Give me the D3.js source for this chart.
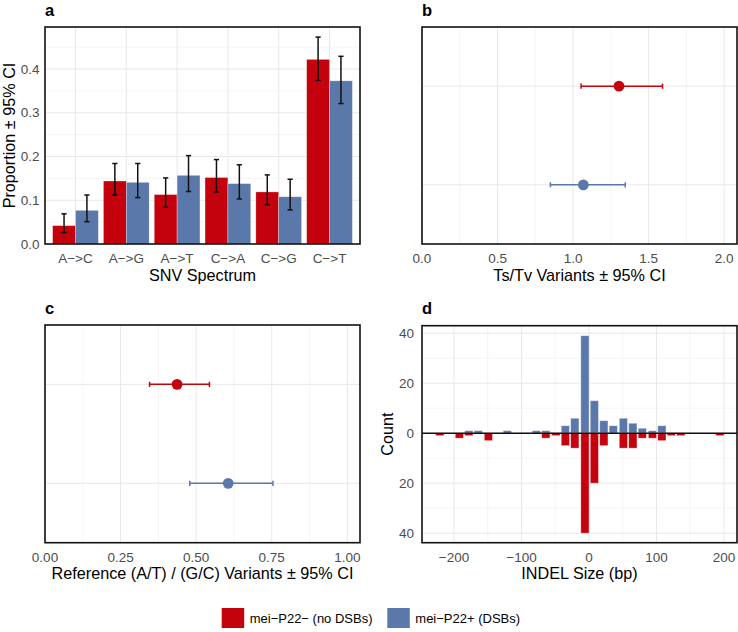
<!DOCTYPE html>
<html>
<head>
<meta charset="utf-8">
<script src="https://cdn.jsdelivr.net/npm/d3@7"></script>
<style>
  body { margin: 0; background: #fff; }
  svg { display: block; font-family: "Liberation Sans", Arial, sans-serif; }
</style>
</head>
<body>
<div id="chart"></div>
<script>
// groups (legend order)
const groups = ["mei−P22− (no DSBs)", "mei−P22+ (DSBs)"]
const groupColors = ["#c4020e", "#5b78ab"]

// panel a: SNV spectrum, proportion with 95% CI
const snvTypes = ["A−>C", "A−>G", "A−>T", "C−>A", "C−>G", "C−>T"]
const snvNoDSB = [0.042, 0.144, 0.113, 0.152, 0.119, 0.422]
const snvNoDSBLo = [0.026, 0.112, 0.084, 0.119, 0.090, 0.374]
const snvNoDSBHi = [0.069, 0.184, 0.151, 0.193, 0.158, 0.473]
const snvDSB = [0.077, 0.141, 0.157, 0.138, 0.108, 0.373]
const snvDSBLo = [0.051, 0.106, 0.120, 0.103, 0.078, 0.321]
const snvDSBHi = [0.112, 0.184, 0.202, 0.181, 0.148, 0.429]

// panel b: Ts/Tv
const tstv = [1.304, 1.068]
const tstvLo = [1.053, 0.850]
const tstvHi = [1.592, 1.345]

// panel c: reference (A/T)/(G/C)
const atgc = [0.437, 0.606]
const atgcLo = [0.346, 0.479]
const atgcHi = [0.544, 0.754]

// panel d: INDEL size histogram (bin centre in bp, counts)
const indelBins = [-221, -192, -178, -164, -149, -121, -78, -64, -49, -35, -21, -6, 8, 22, 36, 51, 65, 79, 94, 108, 122, 136, 194]
const indelNoDSB = [1, 2, 1, 0, 3, 0, 0, 2, 1, 5, 6, 40, 20, 5, 0, 6, 6, 2, 2, 3, 1, 1, 1]
const indelDSB = [0, 0, 1, 1, 0, 1, 1, 1, 0, 3, 6, 39, 13, 5, 3, 6, 4, 2, 1, 3, 0, 0, 0]
const indelBinWidth = 14.3

const W = 738, H = 632
const gridMajor = "#e8e8e8", gridMinor = "#f3f3f3"
const tickSize = 13.5, titleSize = 16.2

const svg = d3.select("#chart").append("svg")
    .attr("width", W).attr("height", H)

// panel boxes [x0, x1, y0, y1]
const pA = [45, 360, 27, 244]
const pB = [422, 737, 27, 244]
const pC = [45, 360, 325, 542.7]
const pD = [422, 737, 325.7, 542.7]

function letter(txt, x, y) {
    svg.append("text").attr("x", x).attr("y", y)
        .attr("font-size", 16.5).attr("font-weight", "bold").text(txt)
}
function xTitle(txt, p) {
    svg.append("text").attr("x", (p[0] + p[1]) / 2).attr("y", p[3] + 36.5)
        .attr("text-anchor", "middle").attr("font-size", titleSize).text(txt)
}
function yTitle(txt, x, p) {
    svg.append("text")
        .attr("transform", `translate(${x},${(p[2] + p[3]) / 2}) rotate(-90)`)
        .attr("text-anchor", "middle").attr("font-size", titleSize).text(txt)
}
function vGrid(g, vals, x, p, col, w) {
    g.selectAll(null).data(vals).join("line")
        .attr("x1", d => x(d)).attr("x2", d => x(d))
        .attr("y1", p[2]).attr("y2", p[3])
        .attr("stroke", col).attr("stroke-width", w)
}
function hGrid(g, vals, y, p, col, w) {
    g.selectAll(null).data(vals).join("line")
        .attr("y1", d => y(d)).attr("y2", d => y(d))
        .attr("x1", p[0]).attr("x2", p[1])
        .attr("stroke", col).attr("stroke-width", w)
}
function xTicks(vals, x, p, fmt) {
    svg.append("g").selectAll("text").data(vals).join("text")
        .attr("x", d => x(d)).attr("y", p[3] + 19.3)
        .attr("text-anchor", "middle").attr("font-size", tickSize).attr("fill", "#4d4d4d")
        .text(fmt)
}
function yTicks(vals, y, xr, fmt) {
    svg.append("g").selectAll("text").data(vals).join("text")
        .attr("x", xr).attr("y", d => y(d)).attr("dy", "0.35em")
        .attr("text-anchor", "end").attr("font-size", tickSize).attr("fill", "#4d4d4d")
        .text(fmt)
}
function border(p) {
    svg.append("rect").attr("x", p[0]).attr("y", p[2])
        .attr("width", p[1] - p[0]).attr("height", p[3] - p[2])
        .attr("fill", "none").attr("stroke", "#111").attr("stroke-width", 1.6)
}

// ---------- panel a ----------
{
    const x = d3.scaleBand().domain(snvTypes).range([pA[0], pA[1]])
        .paddingInner(0.1).paddingOuter(0.15)
    const xs = d3.scaleBand().domain([0, 1]).range([0, x.bandwidth()])
    const y = d3.scaleLinear().domain([0, 0.496]).range([pA[3], pA[2]])
    const g = svg.append("g")
    hGrid(g, [0.05, 0.15, 0.25, 0.35, 0.45], y, pA, gridMinor, 0.8)
    hGrid(g, [0.1, 0.2, 0.3, 0.4], y, pA, gridMajor, 1)
    vGrid(g, snvTypes, d => x(d) + x.bandwidth() / 2, pA, gridMajor, 1)

    const rows = []
    snvTypes.forEach((t, i) => {
        rows.push({ t, s: 0, v: snvNoDSB[i], lo: snvNoDSBLo[i], hi: snvNoDSBHi[i] })
        rows.push({ t, s: 1, v: snvDSB[i], lo: snvDSBLo[i], hi: snvDSBHi[i] })
    })
    g.selectAll("rect").data(rows).join("rect")
        .attr("x", d => x(d.t) + xs(d.s))
        .attr("width", xs.bandwidth())
        .attr("y", d => y(d.v)).attr("height", d => y(0) - y(d.v))
        .attr("fill", d => groupColors[d.s])
        .attr("stroke", "rgba(255,255,255,0.5)").attr("stroke-width", 0.6)
    const cx = d => x(d.t) + xs(d.s) + xs.bandwidth() / 2
    const eb = g.append("g").attr("stroke", "#111").attr("stroke-width", 1.5)
    eb.selectAll(".v").data(rows).join("line")
        .attr("x1", cx).attr("x2", cx).attr("y1", d => y(d.lo)).attr("y2", d => y(d.hi))
    eb.selectAll(".c1").data(rows).join("line")
        .attr("x1", d => cx(d) - 2.6).attr("x2", d => cx(d) + 2.6)
        .attr("y1", d => y(d.lo)).attr("y2", d => y(d.lo))
    eb.selectAll(".c2").data(rows).join("line")
        .attr("x1", d => cx(d) - 2.6).attr("x2", d => cx(d) + 2.6)
        .attr("y1", d => y(d.hi)).attr("y2", d => y(d.hi))

    border(pA)
    xTicks(snvTypes, d => x(d) + x.bandwidth() / 2, pA, d => d)
    yTicks([0, 0.1, 0.2, 0.3, 0.4], y, 39.5, d3.format(".1f"))
    xTitle("SNV Spectrum", pA)
    yTitle("Proportion ± 95% CI", 15, pA)
    letter("a", 45, 16)
}

// dot + CI panels (b, c)
function dotPanel(p, dom, major, minor, vals, lo, hi, fmt, title) {
    const x = d3.scaleLinear().domain(dom).range([p[0], p[1]])
    const y = d3.scalePoint().domain([1, 0]).range([p[3], p[2]]).padding(0.6)
    const g = svg.append("g")
    vGrid(g, minor, x, p, gridMinor, 0.8)
    vGrid(g, major, x, p, gridMajor, 1)
    hGrid(g, [0, 1], y, p, gridMajor, 1)
    const rows = vals.map((v, i) => ({ s: i, v, lo: lo[i], hi: hi[i] }))
    const e = g.selectAll(".eb").data(rows).join("g")
        .attr("stroke", d => groupColors[d.s]).attr("stroke-width", 1.5)
    e.append("line").attr("x1", d => x(d.lo)).attr("x2", d => x(d.hi))
        .attr("y1", d => y(d.s)).attr("y2", d => y(d.s))
    e.append("line").attr("x1", d => x(d.lo)).attr("x2", d => x(d.lo))
        .attr("y1", d => y(d.s) - 2.6).attr("y2", d => y(d.s) + 2.6)
    e.append("line").attr("x1", d => x(d.hi)).attr("x2", d => x(d.hi))
        .attr("y1", d => y(d.s) - 2.6).attr("y2", d => y(d.s) + 2.6)
    g.selectAll("circle").data(rows).join("circle")
        .attr("cx", d => x(d.v)).attr("cy", d => y(d.s)).attr("r", 5.4)
        .attr("fill", d => groupColors[d.s])
    border(p)
    xTicks(major, x, p, fmt)
    xTitle(title, p)
}

dotPanel(pB, [0, 2.085], [0, 0.5, 1, 1.5, 2], [0.25, 0.75, 1.25, 1.75],
    tstv, tstvLo, tstvHi, d3.format(".1f"), "Ts/Tv Variants ± 95% CI")
letter("b", 422, 16)

dotPanel(pC, [0, 1.042], [0, 0.25, 0.5, 0.75, 1], [0.125, 0.375, 0.625, 0.875],
    atgc, atgcLo, atgcHi, d3.format(".2f"), "Reference (A/T) / (G/C) Variants ± 95% CI")
letter("c", 45, 314)

// ---------- panel d ----------
{
    const x = d3.scaleLinear().domain([-247.4, 219.3]).range([pD[0], pD[1]])
    const y = d3.scaleLinear().domain([-43.8, 43.0]).range([pD[3], pD[2]])
    const g = svg.append("g")
    vGrid(g, [-150, -50, 50, 150], x, pD, gridMinor, 0.8)
    hGrid(g, [-30, -10, 10, 30], y, pD, gridMinor, 0.8)
    vGrid(g, [-200, -100, 0, 100, 200], x, pD, gridMajor, 1)
    hGrid(g, [-40, -20, 0, 20, 40], y, pD, gridMajor, 1)

    const bw = (x(indelBinWidth) - x(0)) * 0.86
    const up = indelBins.map((b, i) => ({ b, n: indelDSB[i] })).filter(d => d.n > 0)
    const down = indelBins.map((b, i) => ({ b, n: indelNoDSB[i] })).filter(d => d.n > 0)
    g.selectAll(".up").data(up).join("rect")
        .attr("x", d => x(d.b) - bw / 2).attr("width", bw)
        .attr("y", d => y(d.n)).attr("height", d => y(0) - y(d.n))
        .attr("fill", groupColors[1])
        .attr("stroke", "rgba(255,255,255,0.55)").attr("stroke-width", 0.8)
    g.selectAll(".down").data(down).join("rect")
        .attr("x", d => x(d.b) - bw / 2).attr("width", bw)
        .attr("y", y(0)).attr("height", d => y(-d.n) - y(0))
        .attr("fill", groupColors[0])
        .attr("stroke", "rgba(255,255,255,0.55)").attr("stroke-width", 0.8)
    g.append("line").attr("x1", pD[0]).attr("x2", pD[1])
        .attr("y1", y(0)).attr("y2", y(0))
        .attr("stroke", "#111").attr("stroke-width", 1.5)

    border(pD)
    xTicks([-200, -100, 0, 100, 200], x, pD, d => String(d).replace("-", "−"))
    yTicks([-40, -20, 0, 20, 40], y, 414, d => Math.abs(d))
    xTitle("INDEL Size (bp)", pD)
    yTitle("Count", 393, pD)
    letter("d", 422, 314)
}

// ---------- legend ----------
{
    const lx = [221.7, 387.3]
    const lg = svg.append("g")
    groups.forEach((name, i) => {
        lg.append("rect").attr("x", lx[i]).attr("y", 608)
            .attr("width", 22.5).attr("height", 20).attr("fill", groupColors[i])
        lg.append("text").attr("x", lx[i] + 28).attr("y", 618).attr("dy", "0.35em")
            .attr("font-size", 13).text(name)
    })
}
</script>
</body>
</html>
